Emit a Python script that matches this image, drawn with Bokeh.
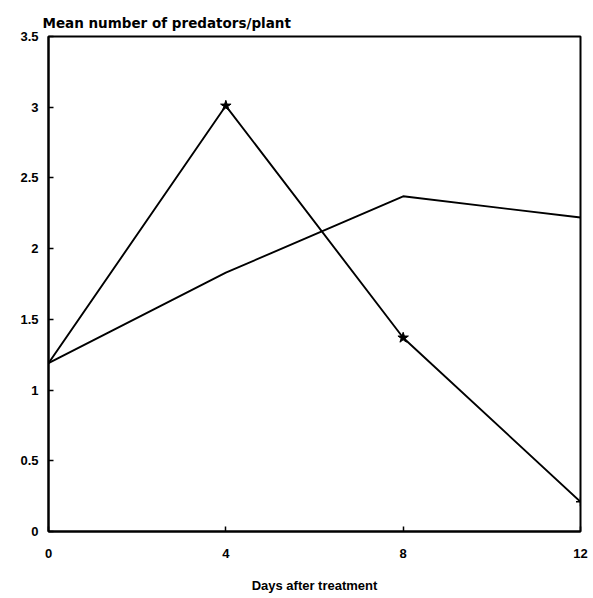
from bokeh.plotting import figure
from bokeh.models import FixedTicker, Range1d
from bokeh.embed import file_html
from bokeh.resources import INLINE

days = [0, 4, 8, 12]
series_a = [1.19, 3.01, 1.37, 0.21]
series_b = [1.19, 1.83, 2.37, 2.22]
a_marker_days = [4, 8]
a_marker_vals = [3.01, 1.37]
a_end_day = [12]
a_end_val = [0.21]
x_ticks = [0, 4, 8, 12]
y_ticks = [0, 0.5, 1, 1.5, 2, 2.5, 3, 3.5]
y_tick_labels = ["0", "0.5", "1", "1.5", "2", "2.5", "3", "3.5"]

FONT = "Liberation Sans"

p = figure(width=593, height=598, output_backend="svg", toolbar_location=None,
           x_range=Range1d(0, 12), y_range=Range1d(0, 3.5),
           min_border_left=48, min_border_right=13, min_border_top=36, min_border_bottom=67)

p.title.text = "Mean number of predators/plant"
p.title.text_font = "DejaVu Sans"
p.title.text_font_size = "13.5px"
p.title.text_font_style = "bold"
p.title.text_color = "black"
p.title.align = "left"
p.title.offset = -6
p.title.standoff = 12

p.xgrid.visible = False
p.ygrid.visible = False
p.outline_line_color = "black"
p.outline_line_width = 2
p.outline_line_alpha = 1

p.xaxis.ticker = FixedTicker(ticks=x_ticks)
p.yaxis.ticker = FixedTicker(ticks=y_ticks)
p.yaxis.major_label_overrides = {t: s for t, s in zip(y_ticks, y_tick_labels)}
p.xaxis.major_label_overrides = {t: str(t) for t in x_ticks}
for ax in (p.xaxis, p.yaxis):
    ax.axis_line_color = "black"
    ax.axis_line_width = 2
    ax.major_tick_line_color = "black"
    ax.major_tick_line_width = 1.5
    ax.major_tick_in = 5
    ax.major_tick_out = 0
    ax.minor_tick_line_color = None
    ax.major_label_text_font = FONT
    ax.major_label_text_font_style = "bold"
    ax.major_label_text_font_size = "13px"
    ax.major_label_text_color = "black"
p.yaxis.major_label_standoff = 10
p.xaxis.major_label_standoff = 17
p.xaxis.axis_label = "Days after treatment"
p.xaxis.axis_label_text_font = FONT
p.xaxis.axis_label_text_font_style = "bold"
p.xaxis.axis_label_text_font_size = "13px"
p.xaxis.axis_label_text_color = "black"
p.xaxis.axis_label_standoff = 17

p.line(days, series_a, line_color="black", line_width=1.9)
p.line(days, series_b, line_color="black", line_width=1.9)
p.scatter(a_marker_days, a_marker_vals, marker="star", size=11, fill_color="black", line_color="black")
p.scatter(a_end_day, a_end_val, marker="cross", size=9, line_color="black", line_width=1.5)

open("out.html", "w").write(file_html(p, INLINE))
